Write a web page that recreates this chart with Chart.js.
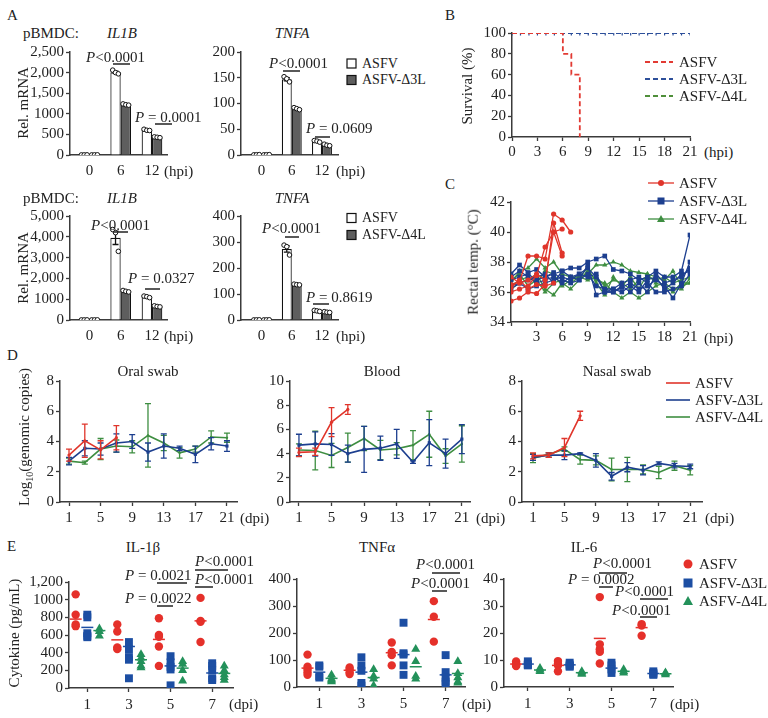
<!DOCTYPE html>
<html><head><meta charset="utf-8">
<script src="https://cdn.jsdelivr.net/npm/chart.js@4.4.1/dist/chart.umd.min.js"></script>
<style>
html,body{margin:0;padding:0;background:#fff}
body{position:relative;width:768px;height:718px;overflow:hidden;font-family:"Liberation Serif","Times New Roman",serif;color:#222}
canvas{position:absolute}
.t{position:absolute;white-space:nowrap;font-size:15px;line-height:1.1}
</style></head><body>
<script>
// ================= DATA =================
// Panel A (pBMDC qPCR)
const hpiLabels = ['0', '6', '12'];
const aIL1BTopTicks = ['0', '500', '1000', '1,500', '2,000', '2,500'];
const aTNFATopTicks = ['0', '50', '100', '150', '200'];
const aIL1BBotTicks = ['0', '1000', '2,000', '3,000', '4,000', '5,000'];
const aTNFABotTicks = ['0', '100', '200', '300', '400'];

const aIL1BTopASFV = [3, 2010, 607];
const aIL1BTopD3L = [3, 1223, 430];
const aIL1BTopASFVReps = [[2, 3, 4], [2060, 2000, 1970], [625, 600, 595]];
const aIL1BTopD3LReps = [[2, 3, 4], [1240, 1220, 1210], [440, 430, 420]];
const aIL1BTopASFVSem = [0, 27, 9];
const aIL1BTopD3LSem = [0, 9, 6];

const aTNFATopASFV = [0.5, 147, 26.5];
const aTNFATopD3L = [0.5, 90, 19];
const aTNFATopASFVReps = [[0.3, 0.5, 0.7], [152, 148, 142], [28, 27, 25]];
const aTNFATopD3LReps = [[0.3, 0.5, 0.7], [92, 90, 88], [21, 19, 18]];
const aTNFATopASFVSem = [0, 3, 1];
const aTNFATopD3LSem = [0, 1.2, 0.9];

const aIL1BBotASFV = [5, 3950, 1115];
const aIL1BBotD4L = [5, 1383, 653];
const aIL1BBotASFVReps = [[4, 5, 6], [4350, 4200, 3300], [1150, 1120, 1075]];
const aIL1BBotD4LReps = [[4, 5, 6], [1420, 1380, 1350], [680, 650, 630]];
const aIL1BBotASFVSem = [0, 320, 22];
const aIL1BBotD4LSem = [0, 20, 15];

const aTNFABotASFV = [0.5, 273, 35];
const aTNFABotD4L = [0.5, 136, 30];
const aTNFABotASFVReps = [[0.3, 0.5, 0.7], [288, 282, 250], [37, 35, 33]];
const aTNFABotD4LReps = [[0.3, 0.5, 0.7], [138, 136, 135], [32, 30, 29]];
const aTNFABotASFVSem = [0, 12, 1.2];
const aTNFABotD4LSem = [0, 1, 1];

// Panel B (survival)
const survTickLabels = ['0', '3', '6', '9', '12', '15', '18', '21'];
const survASFVDays = [0, 6, 7, 8];
const survASFV = [100, 80, 60, 0];
const survDays = [0, 1, 2, 3, 4, 5, 6, 7, 8, 9, 10, 11, 12, 13, 14, 15, 16, 17, 18, 19, 20, 21];
const survD3L = [100, 100, 100, 100, 100, 100, 100, 100, 100, 100, 100, 100, 100, 100, 100, 100, 100, 100, 100, 100, 100, 100];
const survD4L = [100, 100, 100, 100, 100, 100, 100, 100, 100, 100, 100, 100, 100, 100, 100, 100, 100, 100, 100, 100, 100, 100];

// Panel C (rectal temperature, per animal, day 0 onward)
const tempTickLabels = ['', '3', '6', '9', '12', '15', '18', '21'];
const tempASFV = [
  [36.5, 36.7, 38.4, 38.4, 38.2, 41.2, 40.8, 40.0],
  [35.4, 35.6, 36.0, 35.9, 36.5, 40.6, 38.6],
  [36.0, 36.2, 36.4, 37.1, 39.0, 40.0, 38.4],
  [36.3, 36.8, 36.2, 36.5, 36.4, 36.6],
  [37.0, 36.6, 36.8, 37.2, 36.8, 40.0, 40.2]
];
const tempD3L = [
  [37.2, 37.8, 37.3, 37.5, 37.0, 37.2, 37.4, 37.6, 37.6, 38.0, 38.2, 38.4, 37.5, 37.4, 37.2, 36.8, 37.0, 37.4, 37.0, 37.0, 37.4, 39.8],
  [36.8, 37.0, 37.2, 36.8, 37.0, 37.3, 36.8, 36.6, 36.8, 37.8, 35.8, 36.0, 36.0, 36.3, 36.6, 36.2, 36.4, 36.8, 36.4, 35.6, 36.6, 38.0],
  [36.4, 36.6, 36.8, 37.0, 37.2, 36.6, 37.4, 37.0, 37.2, 37.6, 37.0, 36.0, 36.0, 36.4, 36.0, 36.6, 36.0, 37.2, 36.6, 36.8, 37.0, 37.6],
  [37.0, 37.4, 37.0, 36.6, 36.8, 37.0, 36.6, 37.0, 36.8, 37.2, 36.4, 36.2, 36.2, 36.0, 36.4, 36.0, 36.8, 37.0, 36.2, 36.6, 37.2, 37.4],
  [36.2, 36.6, 36.2, 36.4, 36.6, 36.8, 37.0, 36.8, 37.2, 37.0, 37.2, 36.0, 36.2, 36.6, 36.8, 37.0, 36.6, 36.0, 36.0, 36.2, 36.4, 37.2]
];
const tempD4L = [
  [36.6, 37.4, 37.6, 38.2, 37.6, 38.0, 37.2, 37.0, 37.0, 37.2, 37.8, 37.8, 38.0, 37.8, 37.4, 37.3, 37.2, 37.0, 36.8, 37.4, 36.4, 36.6],
  [36.2, 36.6, 36.8, 37.2, 36.2, 35.8, 36.6, 36.2, 36.8, 37.4, 36.8, 36.6, 36.0, 35.6, 36.0, 35.6, 36.0, 36.4, 36.6, 36.2, 36.2, 36.9],
  [36.8, 37.2, 36.4, 36.8, 36.0, 36.6, 36.8, 36.6, 37.0, 37.6, 36.6, 35.8, 37.0, 36.4, 37.0, 36.2, 37.2, 36.6, 36.4, 36.0, 36.6, 36.6],
  [36.4, 36.8, 37.0, 36.6, 37.4, 37.2, 36.4, 36.8, 37.0, 36.8, 37.0, 36.4, 36.8, 36.6, 36.2, 36.8, 37.0, 36.8, 37.0, 36.6, 36.8, 37.0]
];

// Panel D (viral genome, mean and error)
const dDays = [1, 3, 5, 7, 9, 11, 13, 15, 17, 19, 21];
const dTickDays = [1, 5, 9, 13, 17, 21];
const dTickLabels = ['1', '5', '9', '13', '17', '21'];
const oralASFV = [3.1, 4.05, 3.45, 4.25];
const oralASFVErr = [0.4, 1.1, 0.6, 0.8];
const oralD3L = [2.7, 3.55, 3.5, 3.9, 4.0, 3.3, 3.7, 3.55, 3.15, 3.85, 3.7];
const oralD3LErr = [0.25, 0.5, 0.4, 0.6, 0.45, 0.6, 0.8, 0.15, 0.55, 0.4, 0.35];
const oralD4L = [2.7, 2.6, 3.5, 3.7, 3.65, 4.4, 3.9, 3.25, 3.5, 4.3, 4.25];
const oralD4LErr = [0.2, 0.1, 0.7, 0.4, 0.4, 2.1, 0.5, 0.35, 0.2, 0.4, 0.3];
const bloodASFV = [4.1, 4.15, 6.6, 7.65];
const bloodASFVErr = [0.35, 0.3, 1.2, 0.4];
const bloodD3L = [4.7, 4.8, 4.75, 4.0, 4.35, 4.45, 4.8, 3.3, 4.9, 4.0, 5.2];
const bloodD3LErr = [0.9, 1.0, 0.9, 0.7, 1.9, 1.0, 1.2, 0.1, 1.9, 1.2, 1.2];
const bloodD4L = [4.3, 4.25, 3.85, 4.5, 5.25, 4.3, 4.4, 4.7, 5.6, 3.8, 4.8];
const bloodD4LErr = [0.5, 1.6, 1.0, 1.2, 1.0, 0.8, 0.5, 1.2, 1.9, 0.6, 1.5];
const nasalASFV = [3.05, 3.1, 3.6, 5.7];
const nasalASFVErr = [0.2, 0.15, 0.6, 0.3];
const nasalD3L = [2.95, 3.1, 3.1, 3.2, 2.75, 1.7, 2.3, 2.1, 2.55, 2.4, 2.35];
const nasalD3LErr = [0.2, 0.15, 0.3, 0.05, 0.45, 0.25, 0.3, 0.3, 0.1, 0.15, 0.15];
const nasalD4L = [2.9, 3.15, 3.5, 2.8, 2.75, 2.15, 2.15, 2.15, 1.95, 2.4, 2.1];
const nasalD4LErr = [0.3, 0.1, 0.15, 0.3, 0.3, 0.75, 0.8, 0.3, 0.4, 0.3, 0.3];

// Panel E (serum cytokines, per animal, days 1/3/5/7)
const eDayLabels = ['1', '3', '5', '7'];
const eIL1BTicks = ['0', '200', '400', '600', '800', '1000', '1,200'];
const eIL1BASFV = [[1060, 830, 720, 700], [720, 640, 460, 440], [790, 600, 580, 470, 250], [1020, 760, 750, 520]];
const eIL1BD3L = [[830, 800, 620, 590, 575], [520, 440, 350, 320, 110], [360, 290, 240, 210, 30], [280, 250, 200, 110, 90]];
const eIL1BD4L = [[670, 640, 590], [380, 340, 300, 250, 230], [300, 270, 200, 80], [250, 200, 150, 120, 90]];
const eIL1BMeanASFV = [780, 545, 550, 760];
const eIL1BMeanD3L = [686, 470, 250, 170];
const eIL1BMeanD4L = [650, 320, 225, 165];
const eTNFTicks = ['0', '100', '200', '300', '400'];
const eTNFASFV = [[120, 75, 65, 55, 45], [72, 65, 55, 48], [165, 130, 118, 80], [318, 260, 168]];
const eTNFD3L = [[80, 75, 40, 35], [110, 80, 60, 15, 5], [238, 125, 120, 80, 45], [118, 55, 35, 20, 10]];
const eTNFD4L = [[45, 30, 25, 20], [65, 40, 30, 5], [140, 95, 40, 30], [95, 50, 35, 20, 15]];
const eTNFMeanASFV = [70, 62, 127, 250];
const eTNFMeanD3L = [55, 55, 120, 45];
const eTNFMeanD4L = [32, 35, 75, 50];
const eIL6Ticks = ['0', '10', '20', '30', '40'];
const eIL6ASFV = [[9.5, 8.8, 8.3, 8, 7.8], [9.6, 8.6, 8, 5.8], [33.3, 15.8, 14, 13, 8.7], [23.3, 22.8, 19]];
const eIL6D3L = [[9.5, 8.5, 8.2, 8], [9, 8.3, 7.8, 7.5], [9, 8, 6.5, 5.2], [5.8, 5.2, 4.8, 4.5]];
const eIL6D4L = [[7, 6.3, 5.8], [5.8, 5.2, 4.8], [6.5, 5.8, 5.2], [5.3, 5, 4.6]];
const eIL6MeanASFV = [8.5, 8, 18, 22];
const eIL6MeanD3L = [8.5, 8.2, 7, 5];
const eIL6MeanD4L = [6.3, 5.3, 5.8, 4.9];

// ================= STYLE / HELPERS =================
Chart.defaults.font.family = "'Liberation Serif','Times New Roman',serif";
Chart.defaults.font.size = 15;
Chart.defaults.color = '#222';
Chart.defaults.animation = false;

const AX = '#3b3b3b';
const RED = '#e0352b', BLUE = '#1d3f8f', GREEN = '#3e8e41';
const BRED = '#e23a33', BBLUE = '#2d4f9a', BGREEN = '#4f8f3a';
const ERED = '#e5302a', EBLUE = '#1c4ea3', EGREEN = '#23915a';

const errPlugin = {
  id: 'errbars',
  afterDatasetDraw(chart, args) {
    const ds = chart.data.datasets[args.index];
    if (!ds.errorBars) return;
    const meta = args.meta, ys = chart.scales[meta.yAxisID], ctx = chart.ctx;
    ctx.save();
    ctx.strokeStyle = ds.errColor || ds.borderColor;
    ctx.lineWidth = 1.3;
    ctx.setLineDash([]);
    meta.data.forEach((el, i) => {
      const e = ds.errorBars[i];
      if (!e) return;
      const v = ds.data[i].y;
      const x = el.x, y1 = ys.getPixelForValue(v + e), y2 = ys.getPixelForValue(v - e);
      ctx.beginPath();
      ctx.moveTo(x, y1); ctx.lineTo(x, y2);
      ctx.moveTo(x - 3, y1); ctx.lineTo(x + 3, y1);
      ctx.moveTo(x - 3, y2); ctx.lineTo(x + 3, y2);
      ctx.stroke();
    });
    ctx.restore();
  }
};

function yAxis(min, max, step, labels, o = {}) {
  return {
    type: 'linear', min, max, position: 'left',
    ticks: {stepSize: step, autoSkip: false, padding: o.pad ?? 2, color: '#222', font: {size: o.fs || 15},
      callback: (v, i) => labels ? labels[i] : String(v)},
    grid: {display: true, drawOnChartArea: false, drawTicks: true, tickLength: 4, tickColor: AX, tickWidth: 1.3, color: AX},
    border: {display: true, color: AX, width: 1.5}
  };
}
function xAxis(min, max, pos, labels, o = {}) {
  return {
    type: 'linear', min, max, position: 'bottom', offset: false,
    afterBuildTicks: s => { s.ticks = pos.map(v => ({value: v})); },
    ticks: {autoSkip: false, maxRotation: 0, minRotation: 0, padding: o.pad ?? 2, color: '#222', font: {size: o.fs || 15},
      callback: (v, i) => labels[i]},
    grid: {display: true, drawOnChartArea: false, drawTicks: !o.noTicks, tickLength: 4, tickColor: AX, tickWidth: 1.3, color: AX, offset: false},
    border: {display: true, color: AX, width: 1.5}
  };
}
function mk(box, type, datasets, scales) {
  const W = box.r - box.l + box.yw + box.pr, H = box.b - box.t + box.pt + box.xh;
  const c = document.createElement('canvas');
  c.width = W; c.height = H;
  c.style.left = (box.l - box.yw) + 'px'; c.style.top = (box.t - box.pt) + 'px';
  c.style.width = W + 'px'; c.style.height = H + 'px';
  document.body.appendChild(c);
  scales.x.afterFit = s => { s.height = box.xh; s.paddingLeft = 0; s.paddingRight = 0; };
  scales.y.afterFit = s => { s.width = box.yw; s.paddingTop = 0; s.paddingBottom = 0; };
  return new Chart(c, {
    type, data: {datasets},
    options: {responsive: false, animation: false, events: [],
      layout: {padding: {top: box.pt, right: box.pr, left: 0, bottom: 0}, autoPadding: false},
      plugins: {legend: {display: false}, tooltip: {enabled: false}},
      scales},
    plugins: [errPlugin]
  });
}
const B = (l, t, r, b, yw = 42, xh = 26) => ({l, t, r, b, yw, xh, pt: 10, pr: 9});

// ================= PANEL A =================
function barPanel(box, xmin, xmax, asfv, mut, asfvReps, mutReps, asfvSem, mutSem, ymax, ystep, yticks) {
  const bar = (vals, sem, bg) => ({type: 'bar', data: vals.map((v, i) => ({x: i, y: v})), backgroundColor: bg,
    borderColor: '#111', borderWidth: 1.2, categoryPercentage: 0.66, barPercentage: 1, errorBars: sem, errColor: '#111', order: 2});
  const dots = (reps, side) => ({type: 'scatter', data: reps.flatMap((r, i) => r.map((v, k) => ({x: i + side * 0.165 + (k - 1) * 0.09, y: v}))),
    pointRadius: 2.3, pointBackgroundColor: '#fff', pointBorderColor: '#111', pointBorderWidth: 1, order: 1});
  mk(box, 'bar', [bar(asfv, asfvSem, '#fff'), bar(mut, mutSem, '#5e5e5e'), dots(asfvReps, -1), dots(mutReps, 1)],
    {x: xAxis(xmin, xmax, [0, 1, 2], hpiLabels, {noTicks: true, pad: 7}), y: yAxis(0, ymax, ystep, yticks)});
}
barPanel(B(70, 52, 167, 155, 45), -0.62, 2.48, aIL1BTopASFV, aIL1BTopD3L, aIL1BTopASFVReps, aIL1BTopD3LReps, aIL1BTopASFVSem, aIL1BTopD3LSem, 2500, 500, aIL1BTopTicks);
barPanel(B(241, 52, 338, 155, 45), -0.68, 2.53, aTNFATopASFV, aTNFATopD3L, aTNFATopASFVReps, aTNFATopD3LReps, aTNFATopASFVSem, aTNFATopD3LSem, 200, 50, aTNFATopTicks);
barPanel(B(70, 216, 167, 320, 45), -0.62, 2.48, aIL1BBotASFV, aIL1BBotD4L, aIL1BBotASFVReps, aIL1BBotD4LReps, aIL1BBotASFVSem, aIL1BBotD4LSem, 5000, 1000, aIL1BBotTicks);
barPanel(B(241, 216, 338, 320, 45), -0.68, 2.53, aTNFABotASFV, aTNFABotD4L, aTNFABotASFVReps, aTNFABotD4LReps, aTNFABotASFVSem, aTNFABotD4LSem, 400, 100, aTNFABotTicks);

// ================= PANEL B =================
mk(B(512, 33, 690, 137), 'line', [
  {data: survASFVDays.map((d, i) => ({x: d, y: survASFV[i]})), borderColor: BRED, borderDash: [5, 3], borderWidth: 1.8, stepped: true, pointRadius: 0},
  {data: survDays.map((d, i) => ({x: d, y: survD3L[i]})), borderColor: BBLUE, borderDash: [5, 3], borderWidth: 1.8, stepped: true,
    pointStyle: 'line', pointRotation: 90, pointRadius: 2.5, pointBorderColor: BBLUE, pointBorderWidth: 1.2},
  {data: survDays.map((d, i) => ({x: d, y: survD4L[i]})), borderColor: BGREEN, borderDash: [5, 3], borderWidth: 1.8, stepped: true, pointRadius: 0}
], {x: xAxis(0, 21, [0, 3, 6, 9, 12, 15, 18, 21], survTickLabels), y: yAxis(0, 100, 20, null)});

// ================= PANEL C =================
const lineSet = (vals, color, style, r) => ({data: vals.map((v, d) => ({x: d, y: v})), borderColor: color, backgroundColor: color,
  borderWidth: 1.3, pointStyle: style, pointRadius: r, pointBackgroundColor: color, pointBorderColor: color, pointBorderWidth: 0});
mk(B(511, 202, 690, 322), 'line', [
  ...tempASFV.map(v => lineSet(v, RED, 'circle', 2.6)),
  ...tempD3L.map(v => lineSet(v, BLUE, 'rect', 3.3)),
  ...tempD4L.map(v => lineSet(v, GREEN, 'triangle', 3))
], {x: xAxis(0, 21, [0, 3, 6, 9, 12, 15, 18, 21], tempTickLabels), y: yAxis(34, 42, 2, null)});

// ================= PANEL D =================
function dPanel(box, xmin, xmax, ymax, a, aE, b, bE, g, gE) {
  const s = (vals, err, color, style, r) => ({data: vals.map((v, i) => ({x: dDays[i], y: v})), borderColor: color, borderWidth: 1.6,
    pointStyle: style, pointRadius: r, pointBackgroundColor: color, pointBorderColor: color, pointBorderWidth: 0, errorBars: err});
  mk(box, 'line', [s(a, aE, RED, 'circle', 1.6), s(b, bE, BLUE, 'rect', 2.2), s(g, gE, GREEN, 'circle', 1.2)],
    {x: xAxis(xmin, xmax, dTickDays, dTickLabels, {pad: 3}), y: yAxis(0, ymax, 2, null)});
}
dPanel(B(60, 381, 237, 502, 40), -0.14, 22.27, 8, oralASFV, oralASFVErr, oralD3L, oralD3LErr, oralD4L, oralD4LErr);
dPanel(B(290, 381, 470, 502, 40), -0.1, 22.0, 10, bloodASFV, bloodASFVErr, bloodD3L, bloodD3LErr, bloodD4L, bloodD4LErr);
dPanel(B(522, 381, 702, 502, 40), -0.4, 22.5, 8, nasalASFV, nasalASFVErr, nasalD3L, nasalD3LErr, nasalD4L, nasalD4LErr);

// ================= PANEL E =================
const gOff = [-0.28, 0, 0.29];
function ePanel(box, xmin, xmax, ymax, ystep, yticks, groups, means) {
  const styles = [['circle', ERED, 4.2], ['rect', EBLUE, 5.6], ['triangle', EGREEN, 5.2]];
  const pts = groups.map((g, gi) => ({type: 'scatter', data: g.flatMap((vals, di) => vals.map(v => ({x: di + gOff[gi], y: v}))),
    pointStyle: styles[gi][0], pointRadius: styles[gi][2], pointBackgroundColor: styles[gi][1], pointBorderWidth: 0, order: 2}));
  const mns = means.map((m, gi) => ({type: 'scatter', data: m.map((v, di) => ({x: di + gOff[gi], y: v})),
    pointStyle: 'line', pointRadius: 6, pointBorderColor: styles[gi][1], pointBorderWidth: 1.5, order: 1}));
  mk(box, 'scatter', [...pts, ...mns], {x: xAxis(xmin, xmax, [0, 1, 2, 3], eDayLabels, {pad: 4}), y: yAxis(0, ymax, ystep, yticks)});
}
ePanel(B(69, 582, 233, 688, 45), -0.44, 3.5, 1200, 200, eIL1BTicks, [eIL1BASFV, eIL1BD3L, eIL1BD4L], [eIL1BMeanASFV, eIL1BMeanD3L, eIL1BMeanD4L]);
ePanel(B(297, 579, 465, 687, 40), -0.53, 3.46, 400, 100, eTNFTicks, [eTNFASFV, eTNFD3L, eTNFD4L], [eTNFMeanASFV, eTNFMeanD3L, eTNFMeanD4L]);
ePanel(B(504, 579, 673, 687, 40), -0.57, 3.47, 40, 10, eIL6Ticks, [eIL6ASFV, eIL6D3L, eIL6D4L], [eIL6MeanASFV, eIL6MeanD3L, eIL6MeanD4L]);

// ================= TEXT & ANNOTATION OVERLAYS =================
function txt(html, x, y, o = {}) {
  const d = document.createElement('div');
  d.className = 't';
  d.innerHTML = html;
  d.style.left = x + 'px'; d.style.top = y + 'px';
  let tr = o.c ? 'translate(-50%,-50%)' : 'translate(0,-50%)';
  if (o.rot) tr = 'translate(-50%,-50%) rotate(-90deg)';
  d.style.transform = tr;
  if (o.fs) d.style.fontSize = o.fs + 'px';
  if (o.it) d.style.fontStyle = 'italic';
  document.body.appendChild(d);
}
let svg = '';
const sl = (x1, y1, x2, y2, c = '#222', w = 1.5, dash) => { svg += `<line x1="${x1}" y1="${y1}" x2="${x2}" y2="${y2}" stroke="${c}" stroke-width="${w}"${dash ? ` stroke-dasharray="${dash}"` : ''}/>`; };
const P = (t) => '<i>P</i>' + t;
function pv(text, tx, ty, x1, x2, ly) { txt(P(text), tx, ty); sl(x1, ly, x2, ly); }

// panel letters
txt('A', 7, 15); txt('B', 445, 15); txt('C', 445, 184); txt('D', 7, 355); txt('E', 7, 546);

// Panel A
[[33, 63.5, 80, 'ASFV-Δ3L', 171], [198, 218, 235, 'ASFV-Δ4L', 336]].forEach(([ty, l1, l2, lab, hy]) => {
  txt('pBMDC:', 23, ty);
  txt('IL1B', 122, ty, {c: 1, it: 1});
  txt('TNFA', 292, ty, {c: 1, it: 1});
  txt('Rel. mRNA', 23, ty + 70, {rot: 1});
  svg += `<rect x="347" y="${l1 - 4.5}" width="9" height="9" fill="#fff" stroke="#111" stroke-width="1.2"/>`;
  svg += `<rect x="347" y="${l2 - 4.5}" width="9" height="9" fill="#5e5e5e" stroke="#111" stroke-width="1.2"/>`;
  txt('ASFV', 362, l1, {fs: 14}); txt(lab, 362, l2, {fs: 14});
  txt('(hpi)', 164, hy); txt('(hpi)', 336, hy);
});
pv('&lt;0.0001', 86, 57, 113, 130, 64);
pv(' = 0.0001', 135, 117, 155, 172, 124);
pv('&lt;0.0001', 269, 63, 283, 300, 71);
pv(' = 0.0609', 306, 128, 315, 330, 137);
pv('&lt;0.0001', 91, 225, 113, 128, 232);
pv(' = 0.0327', 128, 278, 145, 160, 289);
pv('&lt;0.0001', 262, 228, 285, 299, 237);
pv(' = 0.8619', 306, 297, 313, 329, 304);

// Panel B
txt('Survival (%)', 467, 86, {rot: 1});
txt('(hpi)', 704, 152);
[[BRED, 'ASFV', 62], [BBLUE, 'ASFV-Δ3L', 79], [BGREEN, 'ASFV-Δ4L', 96]].forEach(([c, l, y]) => { sl(645, y, 673, y, c, 1.8, '5 3'); txt(l, 679, y); });

// Panel C
txt('Rectal temp. (°C)', 473, 262, {rot: 1});
txt('(hpi)', 704, 338);
sl(648, 183, 674, 183, RED, 1.3); svg += `<circle cx="661" cy="183" r="3" fill="${RED}"/>`; txt('ASFV', 679, 183);
sl(648, 201, 674, 201, BLUE, 1.3); svg += `<rect x="657.5" y="197.5" width="7" height="7" fill="${BLUE}"/>`; txt('ASFV-Δ3L', 679, 201);
sl(648, 219, 674, 219, GREEN, 1.3); svg += `<polygon points="661,215 665,222 657,222" fill="${GREEN}"/>`; txt('ASFV-Δ4L', 679, 219);

// Panel D
txt('Log<sub style="font-size:10px">10</sub>(genomic copies)', 25, 437, {rot: 1});
txt('Oral swab', 148, 371, {c: 1}); txt('Blood', 382, 371, {c: 1}); txt('Nasal swab', 617, 371, {c: 1});
txt('(dpi)', 240, 518); txt('(dpi)', 476, 518); txt('(dpi)', 705, 518);
[[RED, 'ASFV', 383], [BLUE, 'ASFV-Δ3L', 400], [GREEN, 'ASFV-Δ4L', 417]].forEach(([c, l, y]) => { sl(666, y, 690, y, c, 1.6); txt(l, 695, y); });

// Panel E
txt('Cytokine (pg/mL)', 14, 633, {rot: 1});
txt('IL-1β', 143, 547, {c: 1}); txt('TNFα', 377, 547, {c: 1}); txt('IL-6', 584, 547, {c: 1});
txt('(dpi)', 229, 704); txt('(dpi)', 462, 704); txt('(dpi)', 670, 704);
svg += `<circle cx="688" cy="564" r="4.5" fill="${ERED}"/>`; txt('ASFV', 699, 564);
svg += `<rect x="683.5" y="578.5" width="9" height="9" fill="${EBLUE}"/>`; txt('ASFV-Δ3L', 699, 583);
svg += `<polygon points="688,596 693,605 683,605" fill="${EGREEN}"/>`; txt('ASFV-Δ4L', 699, 601);
pv(' = 0.0021', 125, 575, 157, 187, 583);
pv(' = 0.0022', 125, 598, 157, 173, 606);
pv('&lt;0.0001', 195, 561, 195, 228, 570);
pv('&lt;0.0001', 195, 579, 195, 213, 587);
pv('&lt;0.0001', 416, 564, 432, 460, 573);
pv('&lt;0.0001', 411, 583, 432, 447, 591);
pv('&lt;0.0001', 593, 563, 599, 627, 573);
pv(' = 0.0002', 568, 579, 599, 613, 587);
pv('&lt;0.0001', 615, 591, 640, 668, 599);
pv('&lt;0.0001', 612, 610, 640, 657, 617);

document.body.insertAdjacentHTML('beforeend', `<svg width="768" height="718" style="position:absolute;left:0;top:0;pointer-events:none">${svg}</svg>`);
</script>
</body></html>
